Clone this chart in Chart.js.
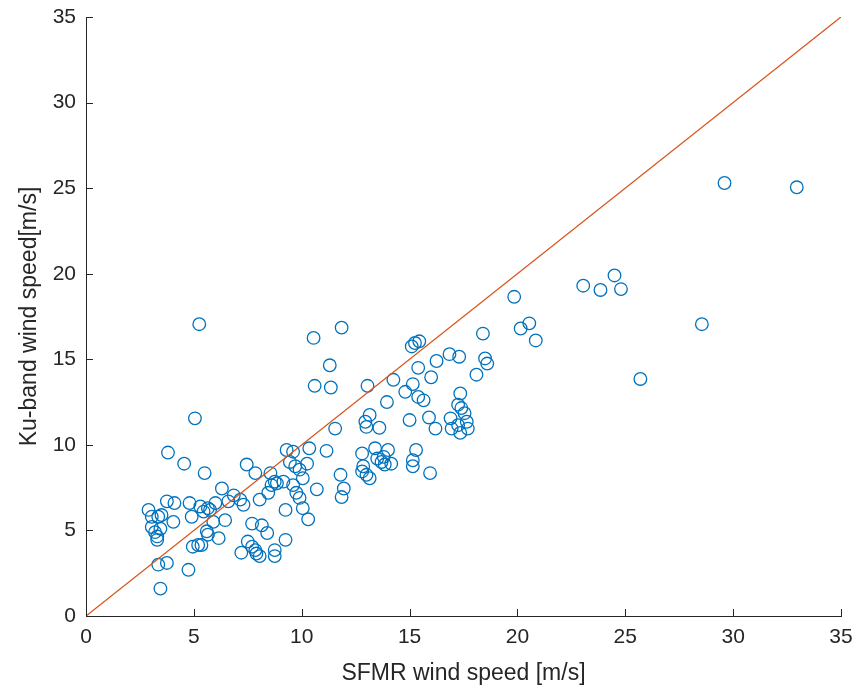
<!DOCTYPE html>
<html>
<head>
<meta charset="utf-8">
<script src="https://cdn.jsdelivr.net/npm/chart.js@4"></script>
<style>
  html, body { margin: 0; padding: 0; background: #fff; }
  #wrap { width: 856px; height: 691px; }
</style>
</head>
<body>
<div id="wrap"><canvas id="myChart" width="856" height="691"></canvas></div>
<script>
// SFMR (x) and Ku-band (y) wind speeds, m/s
var sfmr = [2.9, 3.05, 3.35, 3.5, 3.75, 4.1, 4.05, 3.05, 3.2, 3.3, 3.3, 3.45, 4.8, 4.9, 5.3, 5.45, 5.65, 4.95, 5.2, 5.65,
  3.35, 3.75, 4.75, 3.45, 5.5, 6.3, 6.85, 7.15, 7.3, 6.6, 6.0, 5.75, 6.45, 5.9,
  8.05, 8.45, 8.6, 5.6, 6.15, 5.35, 7.7, 8.15, 8.4, 7.5, 7.7, 7.85, 7.9, 8.05, 7.2, 8.75, 9.25, 8.75,
  7.45, 7.85, 8.55, 8.75, 8.85, 4.55, 3.8, 5.05, 5.25,
  9.3, 9.6, 10.35, 11.15, 9.45, 9.7, 9.9, 10.25, 9.15, 9.6, 10.05, 9.75, 9.9, 9.25, 10.05, 10.3, 10.7, 11.8, 11.95, 11.85,
  12.8, 13.4, 14.0, 13.5, 13.7, 14.15, 12.85, 12.8, 13.0, 13.15, 13.8, 13.85,
  13.15, 12.95, 13.0, 13.6, 11.55,
  10.55, 11.85, 11.3, 10.6, 11.35, 13.05,
  15.1, 15.25, 15.45, 16.25, 16.85, 17.3, 18.5, 18.6, 18.1, 18.4, 15.4, 16.0, 14.25, 15.15, 14.8, 15.4, 15.65, 13.95,
  17.35, 17.25, 17.4, 17.55, 16.9, 17.65, 17.7, 16.95, 17.35, 17.25, 15.0, 15.9, 16.2,
  15.3, 15.15, 15.15, 15.95,
  19.85, 23.05, 23.85, 24.5, 24.8, 28.55, 25.7, 20.15, 20.55, 20.85, 29.6, 32.95];
var ku = [6.2, 5.8, 5.8, 5.9, 6.7, 6.6, 5.5, 5.2, 4.9, 4.65, 4.45, 5.1, 6.6, 5.8, 6.4, 6.1, 6.3, 4.05, 4.15, 4.75,
  3.0, 3.1, 2.7, 1.6, 8.35, 7.45, 7.05, 6.8, 6.5, 6.7, 6.6, 6.2, 5.6, 5.5,
  6.8, 7.2, 7.65, 4.95, 4.55, 4.15, 5.4, 5.3, 4.85, 4.35, 4.05, 3.85, 3.65, 3.5, 3.7, 3.85, 4.45, 3.5,
  8.85, 8.35, 8.35, 7.85, 7.75, 8.9, 9.55, 11.55, 17.05,
  9.7, 9.6, 9.8, 9.65, 9.0, 8.75, 8.55, 8.9, 7.85, 7.65, 8.05, 7.2, 6.9, 6.2, 6.3, 5.65, 7.4, 8.25, 7.45, 6.95,
  9.5, 9.8, 9.7, 9.2, 9.0, 8.9, 8.75, 8.45, 8.25, 8.05, 9.3, 8.85,
  11.75, 11.35, 11.05, 11.0, 10.95,
  16.25, 16.85, 14.65, 13.45, 13.35, 13.45,
  15.75, 15.95, 16.05, 14.9, 15.3, 15.15, 15.05, 14.75, 14.1, 16.5, 14.5, 13.95, 13.8, 13.55, 13.1, 12.8, 12.6, 12.5,
  13.0, 12.35, 12.15, 11.85, 11.55, 11.35, 10.95, 10.95, 10.7, 11.15, 11.45, 11.6, 10.95,
  9.7, 9.1, 8.75, 8.35,
  18.65, 19.3, 19.05, 19.9, 19.1, 17.05, 13.85, 16.8, 17.1, 16.1, 25.3, 25.05];
var tickValues = [0, 5, 10, 15, 20, 25, 30, 35];
var axisMin = 0, axisMax = 35;

var points = sfmr.map(function (x, i) { return {x: x, y: ku[i]}; });
var fontFamily = '"Liberation Sans", Arial, sans-serif';
var axisColor = '#262626';

// MATLAB-style ticks that point into the plot area
var innerTicks = {
    id: 'innerTicks',
    afterDraw: function (chart) {
        var c = chart.ctx, xs = chart.scales.x, ys = chart.scales.y;
        var len = 7;
        c.save();
        c.strokeStyle = axisColor;
        c.lineWidth = 1;
        c.beginPath();
        tickValues.forEach(function (v) {
            var px = Math.round(xs.getPixelForValue(v)) + 0.5;
            c.moveTo(px, ys.bottom);
            c.lineTo(px, ys.bottom - len);
            var py = Math.round(ys.getPixelForValue(v)) + 0.5;
            c.moveTo(xs.left, py);
            c.lineTo(xs.left + len, py);
        });
        c.stroke();
        c.restore();
    }
};

function fixedTicks(s) {
    s.ticks = tickValues.map(function (v) { return {value: v}; });
}

var ctx = document.getElementById('myChart').getContext('2d');
var myChart = new Chart(ctx, {
    data: {
        datasets: [{
            type: 'line',
            data: [{x: axisMin, y: axisMin}, {x: axisMax, y: axisMax}], // 1:1 reference line
            borderColor: '#D95319',
            borderWidth: 1.3,
            pointRadius: 0,
            fill: false
        }, {
            type: 'scatter',
            data: points,
            pointStyle: 'circle',
            pointRadius: 6.3,
            borderWidth: 1.3,
            borderColor: '#0072BD',
            backgroundColor: 'rgba(0,0,0,0)'
        }]
    },
    options: {
        responsive: false,
        animation: false,
        events: [],
        layout: {padding: {left: 0, right: 15, top: 17, bottom: 0}},
        plugins: {legend: {display: false}, tooltip: {enabled: false}},
        scales: {
            x: {
                type: 'linear',
                min: axisMin, max: axisMax,
                afterBuildTicks: fixedTicks,
                afterFit: function (s) { s.height = 75; s.paddingLeft = 0; s.paddingRight = 0; },
                grid: {display: false, drawTicks: false},
                border: {display: true, color: axisColor, width: 1},
                ticks: {color: axisColor, padding: 9, maxRotation: 0, font: {family: fontFamily, size: 21}},
                title: {display: true, text: 'SFMR wind speed [m/s]', color: axisColor,
                    font: {family: fontFamily, size: 23}, padding: {top: 0, bottom: 4}}
            },
            y: {
                type: 'linear',
                min: axisMin, max: axisMax,
                afterBuildTicks: fixedTicks,
                afterFit: function (s) { s.width = 86; s.paddingTop = 0; s.paddingBottom = 0; },
                grid: {display: false, drawTicks: false},
                border: {display: true, color: axisColor, width: 1},
                ticks: {color: axisColor, padding: 10, font: {family: fontFamily, size: 21}},
                title: {display: true, text: 'Ku-band wind speed[m/s]', color: axisColor,
                    font: {family: fontFamily, size: 23}, padding: {top: 16, bottom: 0}}
            }
        }
    },
    plugins: [innerTicks]
});
</script>
</body>
</html>
